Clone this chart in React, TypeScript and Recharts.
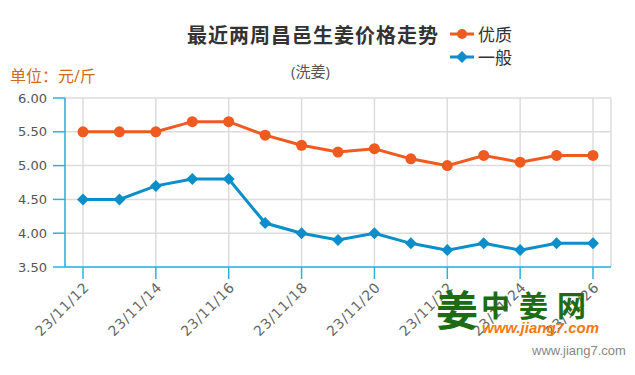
import React from "react"
import {
  LineChart,
  Line,
  XAxis,
  YAxis,
  CartesianGrid,
} from "recharts"

const dates = [
  "23/11/12", "23/11/13", "23/11/14", "23/11/15", "23/11/16",
  "23/11/17", "23/11/18", "23/11/19", "23/11/20", "23/11/21",
  "23/11/22", "23/11/23", "23/11/24", "23/11/25", "23/11/26",
]
const premium = [5.5, 5.5, 5.5, 5.65, 5.65, 5.45, 5.3, 5.2, 5.25, 5.1, 5.0, 5.15, 5.05, 5.15, 5.15]
const ordinary = [4.5, 4.5, 4.7, 4.8, 4.8, 4.15, 4.0, 3.9, 4.0, 3.85, 3.75, 3.85, 3.75, 3.85, 3.85]
const xTicks = ["23/11/12", "23/11/14", "23/11/16", "23/11/18", "23/11/20", "23/11/22", "23/11/24", "23/11/26"]
const yTicks = [3.5, 4, 4.5, 5, 5.5, 6]

const ORANGE = "#ee5a20"
const BLUE = "#0b8ec9"
const AXIS = "#2bb0e4"
const FONT = "'Open Sans', 'Noto Sans CJK SC', sans-serif"
const NUM_FONT = "'DejaVu Sans', sans-serif"

const data = dates.map((date, i) => ({ date, 优质: premium[i], 一般: ordinary[i] }))

function Diamond(props: any) {
  const { cx, cy, fill } = props
  if (cx == null || cy == null) return null
  const r = 6
  return <path d={`M${cx},${cy - r}L${cx + r},${cy}L${cx},${cy + r}L${cx - r},${cy}Z`} fill={fill} />
}

function LegendBox() {
  const items = [
    { label: "优质", color: ORANGE, shape: "circle" },
    { label: "一般", color: BLUE, shape: "diamond" },
  ]
  return (
    <div>
      {items.map(({ label, color, shape }) => (
        <div key={label} style={{ display: "flex", alignItems: "center", height: 23 }}>
          <svg width="24" height="14" style={{ flexShrink: 0 }}>
            <line x1="0" y1="7" x2="24" y2="7" stroke={color} strokeWidth="3" />
            {shape === "circle" ? (
              <circle cx="12" cy="7" r="5" fill={color} />
            ) : (
              <path d="M12,1L18,7L12,13L6,7Z" fill={color} />
            )}
          </svg>
          <span style={{ marginLeft: 4, fontSize: 17, color: "#333", fontFamily: FONT }}>{label}</span>
        </div>
      ))}
    </div>
  )
}

export default function App() {
  return (
    <div style={{ position: "absolute", left: 0, top: 0, width: 635, height: 375, background: "#fff", fontFamily: FONT }}>
      <div style={{ position: "absolute", left: 187, top: 20, fontSize: 20, fontWeight: 700, color: "#333", letterSpacing: 1 }}>
        最近两周昌邑生姜价格走势
      </div>
      <div style={{ position: "absolute", left: 291, top: 60, fontSize: 15, color: "#555" }}>(洗姜)</div>
      <div style={{ position: "absolute", left: 10, top: 63, fontSize: 16, color: "#d0691e" }}>单位：元/斤</div>
      <div style={{ position: "absolute", left: 450, top: 22 }}>
        <LegendBox />
      </div>

      <LineChart width={635} height={375} data={data} margin={{ top: 98, right: 24, bottom: 48, left: 0 }}>
        <CartesianGrid stroke="#dcdcdc" strokeWidth={1.5} />
        <XAxis
          dataKey="date"
          ticks={xTicks}
          interval={0}
          padding={{ left: 18, right: 18 }}
          axisLine={{ stroke: AXIS, strokeWidth: 1.5 }}
          tickLine={{ stroke: AXIS, strokeWidth: 1.5 }}
          tickSize={12}
          angle={-45}
          textAnchor="end"
          height={60}
          tick={{ fontSize: 14, fill: "#666", fontFamily: NUM_FONT, letterSpacing: 0.8 }}
        />
        <YAxis
          domain={[3.5, 6]}
          ticks={yTicks}
          tickFormatter={(v) => v.toFixed(2)}
          width={65}
          axisLine={{ stroke: AXIS, strokeWidth: 1.5 }}
          tickLine={{ stroke: AXIS, strokeWidth: 1.5 }}
          tickSize={12}
          tickMargin={6}
          tick={{ fontSize: 13, fill: "#555", fontFamily: NUM_FONT }}
        />
        <Line
          dataKey="优质"
          stroke={ORANGE}
          strokeWidth={3}
          dot={{ r: 5.5, fill: ORANGE, stroke: ORANGE, strokeWidth: 0 }}
          activeDot={false}
          isAnimationActive={false}
        />
        <Line
          dataKey="一般"
          stroke={BLUE}
          strokeWidth={3}
          dot={(p: any) => <Diamond key={p.index} {...p} fill={BLUE} />}
          activeDot={false}
          isAnimationActive={false}
        />
      </LineChart>

      <div style={{ position: "absolute", left: 436, top: 286, fontSize: 42, fontWeight: 700, color: "#1d6b12", fontFamily: "'Noto Sans CJK SC', sans-serif", lineHeight: "44px" }}>
        姜
      </div>
      <div style={{ position: "absolute", left: 481, top: 289, fontSize: 29, fontWeight: 700, color: "#1d6b12", fontFamily: "'Noto Sans CJK SC', sans-serif", letterSpacing: 9, lineHeight: "30px" }}>
        中姜网
      </div>
      <div style={{ position: "absolute", left: 482, top: 320, fontSize: 15, fontWeight: 700, fontStyle: "italic", color: "#f07a10", fontFamily: "'Liberation Sans', sans-serif", lineHeight: "16px" }}>
        www.jiang7.com
      </div>
      <div style={{ position: "absolute", left: 532, top: 343, fontSize: 13, color: "#888", fontFamily: "'Liberation Sans', sans-serif" }}>
        www.jiang7.com
      </div>
    </div>
  )
}
